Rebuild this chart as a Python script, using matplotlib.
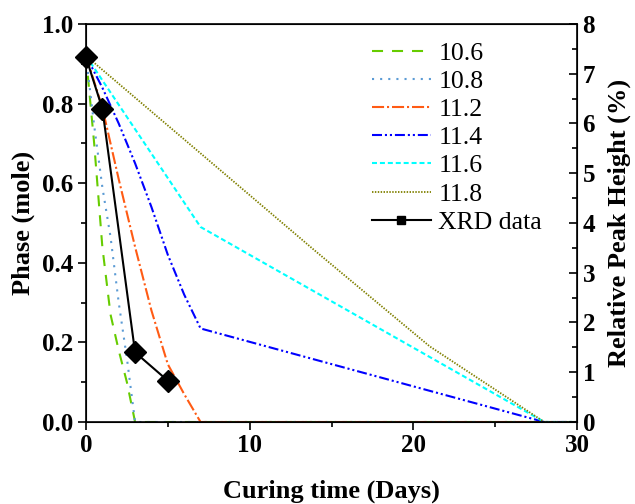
import matplotlib
matplotlib.use('Agg')
import matplotlib.pyplot as plt
from matplotlib.lines import Line2D
from matplotlib.ticker import MultipleLocator, FormatStrFormatter

# Datos del modelo (fracción molar frente a días de curado)
dias_106 = [0, 0.5, 1, 1.5, 2, 2.5, 3, 30]
fase_106 = [0.92, 0.70, 0.44, 0.27, 0.18, 0.10, 0.0, 0.0]

dias_108 = [0, 0.5, 1, 1.5, 2, 2.5, 3, 30]
fase_108 = [0.92, 0.745, 0.59, 0.465, 0.30, 0.16, 0.0, 0.0]

dias_112 = [0, 1, 2, 3, 4, 5, 6, 7, 30]
fase_112 = [0.92, 0.79, 0.61, 0.44, 0.28, 0.145, 0.07, 0.0, 0.0]

dias_114 = [0, 1, 2, 3, 4, 5, 6, 7, 28, 30]
fase_114 = [0.92, 0.84, 0.75, 0.65, 0.54, 0.42, 0.32, 0.235, 0.0, 0.0]

dias_116 = [0, 7, 28, 30]
fase_116 = [0.92, 0.49, 0.0, 0.0]

dias_118 = [0, 7, 14, 21, 28, 30]
fase_118 = [0.92, 0.675, 0.43, 0.19, 0.0, 0.0]

# Datos XRD (eje derecho)
dias_xrd = [0, 1, 3, 5]
pico_xrd = [7.33, 6.3, 1.4, 0.83]

plt.rcParams['font.family'] = ['Liberation Serif', 'DejaVu Serif']

fig = plt.figure(figsize=(6.35, 5.04), dpi=100)
ax = fig.add_axes([0.1354, 0.1627, 0.7733, 0.7897])

lw = 1.5
ax.plot(dias_106, fase_106, color='#66CC00', lw=lw, linestyle=(0, (5.3, 4.3)), label='10.6')
ax.plot(dias_108, fase_108, color='#5B9BD5', lw=lw, linestyle=(0, (1.0, 2.9)), label='10.8')
ax.plot(dias_112, fase_112, color='#FF5B14', lw=lw, linestyle=(0, (5.8, 1.4, 1.0, 1.4)), label='11.2')
ax.plot(dias_114, fase_114, color='#0000FF', lw=lw,
        linestyle=(0, (4.8, 1.4, 1.0, 1.4, 1.0, 1.4)), label='11.4')
ax.plot(dias_116, fase_116, color='#00FFFF', lw=lw, linestyle=(0, (2.4, 1.4)), label='11.6')
ax.plot(dias_118, fase_118, color='#808000', lw=1.3, linestyle=(0, (0.8, 0.8)), label='11.8')

ax.set_xlim(0, 30)
ax.set_ylim(0, 1.0)
ax.xaxis.set_major_locator(MultipleLocator(10))
ax.xaxis.set_minor_locator(MultipleLocator(5))
ax.yaxis.set_major_locator(MultipleLocator(0.2))
ax.yaxis.set_minor_locator(MultipleLocator(0.1))
ax.yaxis.set_major_formatter(FormatStrFormatter('%.1f'))
ax.tick_params(which='major', direction='out', length=6, width=1.2, labelsize=18, pad=3)
ax.tick_params(which='minor', direction='out', length=3.5, width=1.2)
for lab in ax.get_xticklabels() + ax.get_yticklabels():
    lab.set_fontweight('bold')
ax.set_xlabel('Curing time (Days)', fontsize=19, fontweight='bold', labelpad=16)
ax.set_ylabel('Phase (mole)', fontsize=19, fontweight='bold', labelpad=5)
for s in ax.spines.values():
    s.set_linewidth(1.2)

ax2 = ax.twinx()
ax2.plot(dias_xrd, pico_xrd, color='black', lw=1.5, marker='D', markersize=11,
         clip_on=False, zorder=5)
ax2.set_ylim(0, 8)
ax2.yaxis.set_major_locator(MultipleLocator(1))
ax2.yaxis.set_minor_locator(MultipleLocator(0.5))
ax2.tick_params(which='major', direction='in', length=6, width=1.2, labelsize=18, pad=4)
ax2.tick_params(which='minor', direction='in', length=3.5, width=1.2)
for lab in ax2.get_yticklabels():
    lab.set_fontweight('bold')
ax2.set_ylabel('Relative Peak Height (%)', fontsize=19, fontweight='bold', labelpad=9)

# Leyenda con marcador cuadrado para los datos XRD
handles, labels = ax.get_legend_handles_labels()
handles.append(Line2D([], [], color='black', lw=1.5, marker='s', markersize=6))
labels.append('XRD data')
ax.legend(handles, labels, loc='upper left', bbox_to_anchor=(0.545, 1.0),
          frameon=False, fontsize=18.5, handlelength=2.3, handletextpad=0.3,
          labelspacing=0.2, borderaxespad=0.3)

fig.savefig('out.png', dpi=100)
